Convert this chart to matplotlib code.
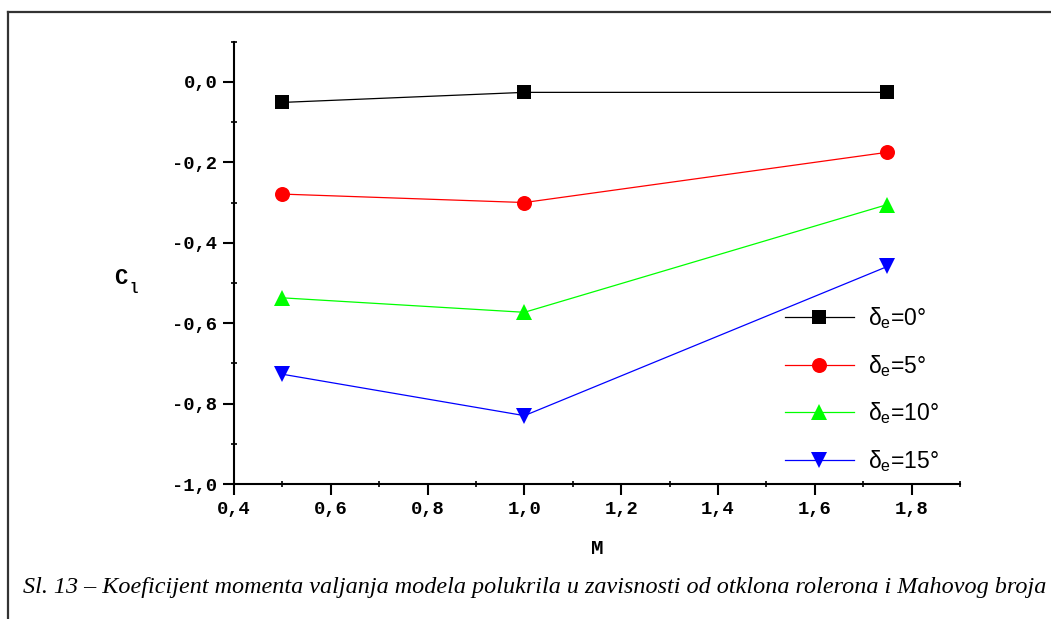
import matplotlib
matplotlib.use("Agg")
import matplotlib.pyplot as plt
from matplotlib.lines import Line2D
from matplotlib.ticker import FixedLocator, FixedFormatter, MultipleLocator

# ---- data ----
mach = [0.5, 1.0, 1.75]
cl_d0 = [-0.051, -0.026, -0.026]
cl_d5 = [-0.279, -0.300, -0.175]
cl_d10 = [-0.537, -0.573, -0.305]
cl_d15 = [-0.727, -0.830, -0.459]
series_labels = [r"$\mathregular{\delta_e}$=0°", r"$\mathregular{\delta_e}$=5°",
                 r"$\mathregular{\delta_e}$=10°", r"$\mathregular{\delta_e}$=15°"]
x_ticks = [0.4, 0.6, 0.8, 1.0, 1.2, 1.4, 1.6, 1.8]
x_tick_labels = ["0,4", "0,6", "0,8", "1,0", "1,2", "1,4", "1,6", "1,8"]
y_ticks = [0.0, -0.2, -0.4, -0.6, -0.8, -1.0]
y_tick_labels = ["0,0", "-0,2", "-0,4", "-0,6", "-0,8", "-1,0"]
caption = "Sl. 13 – Koeficijent momenta valjanja modela polukrila u zavisnosti od otklona rolerona i Mahovog broja"

plt.rcParams["mathtext.fontset"] = "custom"
plt.rcParams["mathtext.rm"] = "Liberation Sans"
plt.rcParams["mathtext.it"] = "Liberation Sans:italic"

W, H = 1051, 619
fig = plt.figure(figsize=(W / 100, H / 100), dpi=100)
ax = fig.add_axes([234 / W, 1 - 484 / H, (960 - 234) / W, (484 - 41.7) / H])

styles = [("black", "s", 9.4), ("#ff0000", "o", 10.8), ("#00ff00", "^", 12), ("#0000ff", "v", 12)]
handles = []
for ys, (c, m, ms), lab in zip([cl_d0, cl_d5, cl_d10, cl_d15], styles, series_labels):
    ln, = ax.plot(mach, ys, color=c, marker=m, markersize=ms, linewidth=0.9,
                  markeredgewidth=0, label=lab)
    handles.append(ln)

ax.set_xlim(0.4, 1.9)
ax.set_ylim(-1.0, 0.1)
for s in ["top", "right"]:
    ax.spines[s].set_visible(False)
for s in ["left", "bottom"]:
    ax.spines[s].set_linewidth(1.5)

ax.xaxis.set_major_locator(FixedLocator(x_ticks))
ax.xaxis.set_major_formatter(FixedFormatter(x_tick_labels))
ax.yaxis.set_major_locator(FixedLocator(y_ticks))
ax.yaxis.set_major_formatter(FixedFormatter(y_tick_labels))
ax.xaxis.set_minor_locator(MultipleLocator(0.1))
ax.yaxis.set_minor_locator(MultipleLocator(0.1))
ax.tick_params(which="major", direction="out", length=8, width=1.5, pad=4,
               labelsize=13.5)
ax.tick_params(which="minor", direction="inout", length=4, width=1.2)
for lab in ax.get_xticklabels() + ax.get_yticklabels():
    lab.set_fontfamily("Liberation Mono")
    lab.set_fontweight("bold")

leg = ax.legend(handles=handles, loc="upper left",
                bbox_to_anchor=(785 / W, 1 - 305 / H), bbox_transform=fig.transFigure,
                frameon=False, borderpad=0, borderaxespad=0,
                handlelength=3.0, handletextpad=0.6, labelspacing=0.95,
                prop={"family": "Liberation Sans", "size": 16.5})

# axis labels
fig.text(120.5 / W, 1 - 278 / H, "C", ha="center", va="center",
         family="Liberation Mono", weight="bold", fontsize=16)
fig.text(133.5 / W, 1 - 289 / H, "l", ha="center", va="center",
         family="Liberation Mono", weight="bold", fontsize=10)
fig.text(597 / W, 1 - 549 / H, "M", ha="center", va="center",
         family="Liberation Mono", weight="bold", fontsize=15)

# caption
fig.text(535 / W, 1 - 588 / H, caption, ha="center", va="center",
         family="Liberation Serif", style="italic", fontsize=17.4)

# frame (left and top edges visible)
fig.add_artist(Line2D([8 / W, 8 / W], [0, 1 - 12 / H], transform=fig.transFigure,
                      color="#333333", linewidth=1.6))
fig.add_artist(Line2D([8 / W, 1], [1 - 12 / H, 1 - 12 / H], transform=fig.transFigure,
                      color="#333333", linewidth=1.6))

fig.savefig("out.png", dpi=100)
